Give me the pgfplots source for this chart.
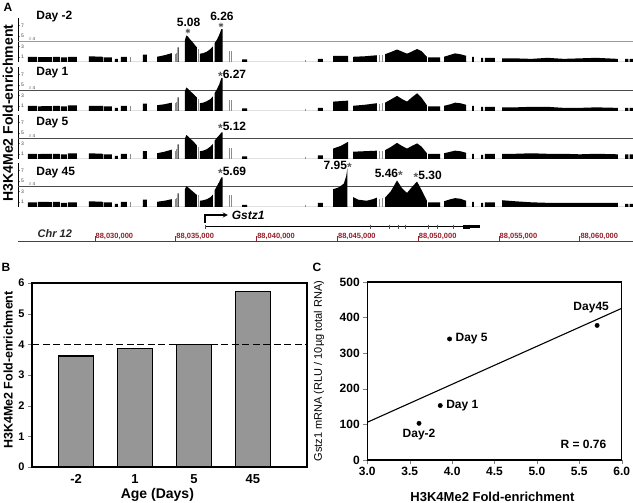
\documentclass[border=0pt]{standalone}
\usepackage{fontspec}
\setmainfont{Liberation Sans}
\usepackage{pgfplots}
\pgfplotsset{compat=1.18}

\definecolor{rulered}{RGB}{150,30,40}
\definecolor{bargray}{RGB}{150,150,150}

\newcommand{\fs}[1]{\fontsize{#1}{#1}\selectfont}
\newcommand{\st}{{\color{black!65}\raisebox{-0.3ex}{*}}}

\tikzset{
  rlab/.style={font=\fs{7.5}\bfseries, text=rulered, anchor=west, inner sep=0.5pt},
  thr/.style={font=\fs{4.5}, anchor=south west, inner sep=0.3pt, text=black!75},
}

\pgfplotsset{
  /pgf/number format/assume math mode=true,
  track/.style={
    scale only axis, width=615pt, height=44.2pt,
    at={(18pt,#1)}, anchor=south west,
    xmin=25.24, xmax=63.29, ymin=0, ymax=8.5,
    axis x line=none, axis y line=left,
    y axis line style={-, line width=0.7pt},
    ytick={1,3,5,7}, tick align=inside, major tick length=2pt,
    yticklabel style={font=\fs{5}, anchor=west, xshift=2pt, inner sep=1pt, text=black!75},
    clip=false,
  },
  bars/.style={fill=black, draw=none},
  thin/.style={ycomb, mark=none, black!45, line width=0.6pt},
}

\begin{document}
\begin{tikzpicture}
\path[use as bounding box] (0,0) rectangle (633pt,503pt);

% ---------- panel A: tracks ----------
\node[font=\fs{12}\bfseries] at (8pt,496pt) {A};
\node[font=\fs{14}\bfseries, rotate=90] at (8pt,390pt) {H3K4Me2 Fold-enrichment};

% Day -2
\begin{axis}[track=441pt]
\addplot[black!40, line width=0.7pt] coordinates {(25.24,4)(63.29,4)};
\addplot[bars] coordinates {
(25.85,0)(25.85,1.0)(26.41,1.0)(26.41,0)(26.47,0)(26.47,0.95)(27.34,0.95)(27.34,0)
(27.40,0)(27.40,1.0)(27.83,1.0)(27.83,0)(27.90,0)(27.90,0.9)(28.27,0.9)(28.27,0)
(28.33,0)(28.33,1.0)(28.89,1.0)(28.89,0)(29.63,0)(29.63,1.1)(30.50,1.0)(30.50,0)
(30.56,0)(30.56,0.9)(31.05,0.9)(31.05,0)(31.24,0)(31.24,0.6)(31.42,0.6)(31.42,0)
(31.61,0)(31.61,1.0)(31.98,1.0)(31.98,0)(32.97,0)(32.97,1.4)(33.22,1.4)(33.22,0)
(33.84,0)(33.84,1.0)(34.3,1.3)(34.76,1.7)(34.76,0)(35.12,0)(35.12,2.8)(35.18,2.8)(35.18,0)
(35.57,0)(35.57,4.2)(35.65,5.1)(35.75,4.9)(35.9,4.3)(36.05,3.8)(36.2,3.2)(36.31,2.8)(36.31,0)
(36.50,0)(36.50,1.6)(36.7,1.7)(36.93,2.0)(37.15,2.5)(37.30,3.0)(37.30,0)
(37.40,0)(37.40,3.6)(37.55,4.3)(37.7,5.3)(37.82,6.3)(37.90,6.3)(37.90,0)
(39.10,0)(39.10,0.5)(39.41,0.5)(39.41,0)(43.80,0)(43.80,0.6)(44.11,0.6)(44.11,0)
(44.73,0)(44.73,1.2)(45.66,1.2)(45.66,0)(45.97,0)(45.97,1.0)(46.7,1.1)(47.45,1.3)(47.45,0)
(47.95,0)(47.95,1.5)(48.3,1.9)(48.69,2.4)(49.0,2.0)(49.31,1.6)(49.6,2.0)(49.93,2.5)(50.2,2.1)(50.54,1.0)(50.54,0)
(50.61,0)(50.61,0.9)(51.35,0.9)(51.35,0)
(51.60,0)(51.60,1.0)(52.0,1.4)(52.28,1.65)(52.6,1.5)(52.96,1.2)(52.96,0)
(53.33,0)(53.33,1.0)(53.45,1.0)(53.45,0)(53.89,0)(53.89,0.8)(54.01,0.8)(54.01,0)
(54.13,0)(54.13,0.8)(54.75,0.8)(54.75,0)
(55.19,0)(55.19,0.7)(56,0.7)(57,0.6)(58,0.8)(59,0.6)(60,0.7)(61,0.8)(62.36,0.6)(62.36,0)
(62.80,0)(62.80,0.6)(63.0,0.6)(63.0,0)(63.08,0)(63.08,0.6)(63.29,0.6)(63.29,0)
} \closedcycle;
\addplot[thin] coordinates {(32.2,1.0)(34.95,1.5)(35.05,1.8)(36.38,2.5)(38.29,2.2)(38.42,2.2)(43.0,0.3)(47.6,1.3)(47.8,1.4)};
\addplot[only marks, mark=asterisk, mark size=2.4pt, black!65, line width=0.9pt] coordinates {(35.75,5.96)(37.80,7.1)};
\node[thr] at (axis cs:25.88,4.05) {= 4};
\node[font=\fs{12}\bfseries, anchor=west] at (axis cs:26.16,8.65) {Day -2};
\node[font=\fs{12}\bfseries, inner sep=0pt] at (axis cs:35.79,7.65) {5.08};
\node[font=\fs{12}\bfseries, inner sep=0pt] at (axis cs:37.86,8.75) {6.26};
\end{axis}

% Day 1
\begin{axis}[track=392pt]
\addplot[black!70, line width=0.7pt] coordinates {(25.24,4)(63.29,4)};
\addplot[bars] coordinates {
(25.85,0)(25.85,1.0)(26.41,1.0)(26.41,0)(26.47,0)(26.47,0.9)(27.34,0.95)(27.34,0)
(27.40,0)(27.40,1.0)(27.83,1.0)(27.83,0)(27.90,0)(27.90,0.9)(28.27,0.9)(28.27,0)
(28.33,0)(28.33,1.1)(28.89,1.1)(28.89,0)(29.63,0)(29.63,1.0)(30.50,1.0)(30.50,0)
(30.56,0)(30.56,0.9)(31.05,0.9)(31.05,0)(31.24,0)(31.24,0.6)(31.42,0.6)(31.42,0)
(31.61,0)(31.61,1.0)(31.98,1.0)(31.98,0)(32.97,0)(32.97,1.4)(33.22,1.4)(33.22,0)
(33.84,0)(33.84,1.1)(34.3,1.3)(34.76,1.6)(34.76,0)(35.12,0)(35.12,2.6)(35.18,2.6)(35.18,0)
(35.57,0)(35.57,3.8)(35.65,4.5)(35.75,4.3)(35.9,3.8)(36.05,3.4)(36.2,2.9)(36.31,2.6)(36.31,0)
(36.50,0)(36.50,1.5)(36.7,1.6)(36.93,1.9)(37.15,2.3)(37.30,2.8)(37.30,0)
(37.40,0)(37.40,3.4)(37.55,4.2)(37.7,5.2)(37.82,6.3)(37.90,6.3)(37.90,0)
(39.10,0)(39.10,0.5)(39.41,0.5)(39.41,0)(43.80,0)(43.80,0.6)(44.11,0.6)(44.11,0)
(44.73,0)(44.73,1.8)(45.66,2.0)(45.66,0)(45.97,0)(45.97,1.0)(46.7,1.2)(47.45,1.5)(47.45,0)
(47.95,0)(47.95,1.6)(48.3,2.2)(48.69,2.9)(49.0,2.3)(49.31,1.8)(49.6,2.6)(49.93,3.4)(50.2,2.6)(50.54,1.1)(50.54,0)
(50.61,0)(50.61,0.9)(51.35,0.9)(51.35,0)
(51.60,0)(51.60,1.0)(52.0,1.3)(52.28,1.6)(52.6,1.5)(52.96,1.2)(52.96,0)
(53.33,0)(53.33,1.0)(53.45,1.0)(53.45,0)(53.89,0)(53.89,0.8)(54.01,0.8)(54.01,0)
(54.13,0)(54.13,0.8)(54.75,0.8)(54.75,0)
(55.19,0)(55.19,0.7)(56,0.7)(57,0.8)(58,0.8)(59,0.6)(60,0.6)(61,0.7)(62.36,0.6)(62.36,0)
(62.80,0)(62.80,0.6)(63.0,0.6)(63.0,0)(63.08,0)(63.08,0.6)(63.29,0.6)(63.29,0)
} \closedcycle;
\addplot[thin] coordinates {(32.2,1.0)(34.95,1.5)(35.05,1.8)(36.38,2.3)(38.29,2.1)(38.42,2.1)(43.0,0.3)(47.6,1.4)(47.8,1.5)};
\node[thr] at (axis cs:25.88,4.05) {= 4};
\node[font=\fs{12}\bfseries, anchor=west] at (axis cs:26.16,7.3) {Day 1};
\node[font=\fs{12}\bfseries, anchor=west, inner sep=0pt] at (axis cs:37.61,6.9) {\st6.27};
\end{axis}

% Day 5
\begin{axis}[track=344pt]
\addplot[black!70, line width=0.7pt] coordinates {(25.24,4)(63.29,4)};
\addplot[bars] coordinates {
(25.85,0)(25.85,1.0)(26.41,1.0)(26.41,0)(26.47,0)(26.47,0.95)(27.34,1.0)(27.34,0)
(27.40,0)(27.40,1.0)(27.83,1.0)(27.83,0)(27.90,0)(27.90,0.9)(28.27,0.9)(28.27,0)
(28.33,0)(28.33,1.1)(28.89,1.1)(28.89,0)(29.63,0)(29.63,1.1)(30.50,1.0)(30.50,0)
(30.56,0)(30.56,0.9)(31.05,0.9)(31.05,0)(31.24,0)(31.24,0.6)(31.42,0.6)(31.42,0)
(31.61,0)(31.61,1.0)(31.98,1.0)(31.98,0)(32.97,0)(32.97,1.5)(33.22,1.5)(33.22,0)
(33.84,0)(33.84,1.1)(34.3,1.4)(34.76,1.8)(34.76,0)(35.12,0)(35.12,2.8)(35.18,2.8)(35.18,0)
(35.57,0)(35.57,3.9)(35.65,4.6)(35.75,4.4)(35.9,3.9)(36.05,3.5)(36.2,3.0)(36.31,2.6)(36.31,0)
(36.50,0)(36.50,1.5)(36.7,1.6)(36.93,1.9)(37.15,2.4)(37.30,2.9)(37.30,0)
(37.40,0)(37.40,3.5)(37.55,4.1)(37.7,4.6)(37.82,5.1)(37.90,5.1)(37.90,0)
(39.10,0)(39.10,0.5)(39.41,0.5)(39.41,0)(43.80,0)(43.80,0.7)(44.11,0.7)(44.11,0)
(44.73,0)(44.73,2.0)(45.2,2.5)(45.66,3.3)(45.66,0)(45.97,0)(45.97,1.4)(46.7,1.5)(47.45,1.6)(47.45,0)
(47.95,0)(47.95,1.7)(48.3,2.3)(48.69,3.1)(49.0,2.5)(49.31,2.0)(49.6,2.5)(49.93,3.0)(50.2,2.4)(50.54,1.1)(50.54,0)
(50.61,0)(50.61,1.0)(51.35,1.0)(51.35,0)
(51.60,0)(51.60,1.1)(52.0,1.4)(52.28,1.6)(52.6,1.5)(52.96,1.2)(52.96,0)
(53.33,0)(53.33,1.0)(53.45,1.0)(53.45,0)(53.89,0)(53.89,0.8)(54.01,0.8)(54.01,0)
(54.13,0)(54.13,1.0)(54.75,1.0)(54.75,0)
(55.19,0)(55.19,1.0)(56,1.0)(57,1.1)(58,1.0)(59,1.0)(60,0.9)(61,1.0)(62.36,0.9)(62.36,0)
(62.80,0)(62.80,0.9)(63.0,0.9)(63.0,0)(63.08,0)(63.08,0.9)(63.29,0.9)(63.29,0)
} \closedcycle;
\addplot[thin] coordinates {(32.2,1.0)(34.95,1.6)(35.05,1.9)(36.38,2.4)(38.29,2.2)(38.42,2.2)(43.0,0.3)(47.6,1.5)(47.8,1.6)};
\node[thr] at (axis cs:25.88,4.05) {= 4};
\node[font=\fs{12}\bfseries, anchor=west] at (axis cs:26.16,6.9) {Day 5};
\node[font=\fs{12}\bfseries, anchor=west, inner sep=0pt] at (axis cs:37.61,6.1) {\st5.12};
\end{axis}

% Day 45
\begin{axis}[track=296pt]
\addplot[black!70, line width=0.7pt] coordinates {(25.24,4)(63.29,4)};
\addplot[bars] coordinates {
(25.85,0)(25.85,0.9)(26.41,0.9)(26.41,0)(26.47,0)(26.47,1.0)(27.34,0.95)(27.34,0)
(27.40,0)(27.40,1.0)(27.83,1.0)(27.83,0)(27.90,0)(27.90,0.8)(28.27,0.8)(28.27,0)
(28.33,0)(28.33,0.9)(28.89,0.9)(28.89,0)(29.63,0)(29.63,1.1)(30.50,1.0)(30.50,0)
(30.56,0)(30.56,0.9)(31.05,0.9)(31.05,0)(31.24,0)(31.24,0.6)(31.42,0.6)(31.42,0)
(31.61,0)(31.61,1.0)(31.98,1.0)(31.98,0)(32.97,0)(32.97,1.4)(33.22,1.4)(33.22,0)
(33.84,0)(33.84,1.0)(34.3,1.2)(34.76,1.5)(34.76,0)(35.12,0)(35.12,2.6)(35.18,2.6)(35.18,0)
(35.57,0)(35.57,3.4)(35.65,4.0)(35.75,3.8)(35.9,3.4)(36.05,3.0)(36.2,2.6)(36.31,2.3)(36.31,0)
(36.50,0)(36.50,1.2)(36.7,1.3)(36.93,1.5)(37.15,1.9)(37.30,2.4)(37.30,0)
(37.40,0)(37.40,3.2)(37.55,4.0)(37.7,4.9)(37.82,5.7)(37.90,5.7)(37.90,0)
(39.10,0)(39.10,0.4)(39.41,0.4)(39.41,0)(43.80,0)(43.80,0.8)(44.11,0.8)(44.11,0)
(44.73,0)(44.73,3.4)(45.1,3.8)(45.4,4.5)(45.55,6.0)(45.62,7.5)(45.62,0)
(45.97,0)(45.97,1.9)(46.3,1.4)(46.8,1.2)(47.2,1.5)(47.45,1.8)(47.45,0)
(47.95,0)(47.95,1.8)(48.3,3.0)(48.69,5.1)(49.0,3.6)(49.31,2.7)(49.6,3.8)(49.93,4.9)(50.2,3.3)(50.54,1.2)(50.54,0)
(50.61,0)(50.61,0.9)(51.35,0.9)(51.35,0)
(51.60,0)(51.60,1.1)(52.0,1.5)(52.28,1.7)(52.6,1.6)(52.96,1.2)(52.96,0)
(53.33,0)(53.33,1.0)(53.45,1.0)(53.45,0)(53.89,0)(53.89,0.8)(54.01,0.8)(54.01,0)
(54.13,0)(54.13,0.9)(54.75,0.9)(54.75,0)
(55.19,0)(55.19,1.3)(56,1.1)(57,0.9)(58,0.8)(60,0.8)(62.36,0.8)(62.36,0)
(62.80,0)(62.80,0.6)(63.0,0.6)(63.0,0)(63.08,0)(63.08,0.6)(63.29,0.6)(63.29,0)
} \closedcycle;
\addplot[thin] coordinates {(32.2,1.0)(34.95,1.5)(35.05,1.8)(36.38,2.3)(38.29,2.3)(38.42,2.3)(43.0,0.4)(47.6,1.5)(47.8,1.7)};
\node[thr] at (axis cs:25.88,4.05) {= 4};
\node[font=\fs{12}\bfseries, anchor=west] at (axis cs:26.16,6.7) {Day 45};
\node[font=\fs{12}\bfseries, anchor=west, inner sep=0pt] at (axis cs:37.61,6.7) {\st5.69};
\node[font=\fs{12}\bfseries, anchor=east, inner sep=0pt] at (axis cs:45.9,7.9) {7.95\st};
\node[font=\fs{12}\bfseries, anchor=east, inner sep=0pt] at (axis cs:49.06,6.35) {5.46\st};
\node[font=\fs{12}\bfseries, anchor=west, inner sep=0pt] at (axis cs:49.71,5.96) {\st5.30};
\end{axis}

% gene model and ruler
\begin{axis}[
  scale only axis, width=615pt, height=30pt,
  at={(18pt,261.3pt)}, anchor=south west,
  xmin=25.24, xmax=63.29, ymin=0, ymax=30,
  axis x line=bottom, axis y line=none,
  x axis line style={-, rulered, line width=0.8pt},
  xtick=\empty, minor xtick={25.5,26,...,63},
  minor tick length=1.5pt, tick align=outside,
  minor x tick style={rulered, line width=0.5pt},
  clip=false,
]
\addplot[ycomb, mark=none, rulered, line width=0.8pt] coordinates {(30,6)(35,6)(40,6)(45,6)(50,6)(55,6)(60,6)};
\addplot[black, line width=0.8pt] coordinates {(36.81,15)(53.82,15)};
\addplot[black, line width=2.5pt] coordinates {(52.77,15)(53.82,15)};
\addplot[black, line width=4pt] coordinates {(52.77,15)(53.20,15)};
\addplot[only marks, mark=|, mark size=2pt, black!70, line width=0.8pt] coordinates {(36.81,15)(47.02,15)(48.19,15)(48.75,15)(49.18,15)(50.61,15)(51.16,15)(52.15,15)};
\addplot[black, line width=1.3pt, -stealth] coordinates {(36.81,18.7)(36.81,26.7)(38.23,26.7)};
\node[font=\fs{12}\bfseries\itshape, anchor=west] at (axis cs:38.25,26.2) {Gstz1};
\node[font=\fs{11}\bfseries\itshape, text=black!85] at (axis cs:27.52,7.7) {Chr 12};
\node[rlab] at (axis cs:30,5.7) {88,030,000};
\node[rlab] at (axis cs:35,5.7) {88,035,000};
\node[rlab] at (axis cs:40,5.7) {88,040,000};
\node[rlab] at (axis cs:45,5.7) {88,045,000};
\node[rlab] at (axis cs:50,5.7) {88,050,000};
\node[rlab] at (axis cs:55,5.7) {88,055,000};
\node[rlab] at (axis cs:60,5.7) {88,060,000};
\end{axis}

% ---------- panel B ----------
\node[font=\fs{12}\bfseries] at (6pt,236pt) {B};
\begin{axis}[
  at={(32pt,36pt)}, anchor=south west, scale only axis,
  width=275pt, height=184pt,
  xmin=-0.75, xmax=3.92, ymin=0, ymax=6,
  xtick={0,1,2,3}, xticklabels={-2,1,5,45},
  ytick={0,...,6}, tick align=outside, tick pos=left,
  major x tick style={draw=none}, major tick length=4pt,
  axis line style={line width=1.1pt},
  xticklabel style={font=\fs{13}\bfseries},
  yticklabel style={font=\fs{11}\bfseries},
  xlabel={Age (Days)}, ylabel={H3K4Me2 Fold-enrichment},
  xlabel style={font=\fs{14}\bfseries, at={(axis description cs:0.456,-0.152)}, anchor=center},
  ylabel style={font=\fs{12.5}\bfseries, at={(axis description cs:-0.087,0.527)}, anchor=center},
]
\addplot[ybar, bar width=35.5pt, fill=bargray, draw=black, line width=1.1pt] coordinates {(0,3.62)(1,3.87)(2,3.98)(3,5.72)};
\addplot[black, line width=1.4pt, dash pattern=on 7pt off 3.5pt] coordinates {(-0.75,4)(3.92,4)};
\end{axis}

% ---------- panel C ----------
\node[font=\fs{12}\bfseries] at (317pt,236pt) {C};
\begin{axis}[
  at={(367.3pt,43pt)}, anchor=south west, scale only axis,
  width=254.4pt, height=178pt,
  xmin=3, xmax=6, ymin=0, ymax=500,
  xtick={3,3.5,4,4.5,5,5.5,6}, ytick={0,100,200,300,400,500},
  xticklabel style={font=\fs{12}\bfseries, /pgf/number format/.cd, fixed, fixed zerofill, precision=1},
  yticklabel style={font=\fs{12}\bfseries},
  tick align=outside, tick pos=left, major tick length=4pt,
  axis line style={line width=1.1pt},
  xlabel={H3K4Me2 Fold-enrichment},
  ylabel={Gstz1 mRNA (RLU / 10µg total RNA)},
  xlabel style={font=\fs{13}\bfseries, at={(axis description cs:0.492,-0.208)}, anchor=center},
  ylabel style={font=\fs{11}, at={(axis description cs:-0.19,0.5)}, anchor=center},
  clip=false,
]
\addplot[black, line width=1.1pt] coordinates {(3,106)(6,426)};
\addplot[only marks, mark=*, mark size=2.2pt, black] coordinates {(3.61,103)(3.86,153)(3.97,340)(5.71,378)};
\node[font=\fs{12}\bfseries, anchor=north] at (axis cs:3.61,96) {Day-2};
\node[font=\fs{12}\bfseries, anchor=west] at (axis cs:3.89,153) {Day 1};
\node[font=\fs{12}\bfseries, anchor=west] at (axis cs:4.00,340) {Day 5};
\node[font=\fs{12}\bfseries] at (axis cs:5.64,427) {Day45};
\node[font=\fs{12}\bfseries, anchor=east] at (axis cs:5.86,45) {R = 0.76};
\end{axis}
\end{tikzpicture}
\end{document}
